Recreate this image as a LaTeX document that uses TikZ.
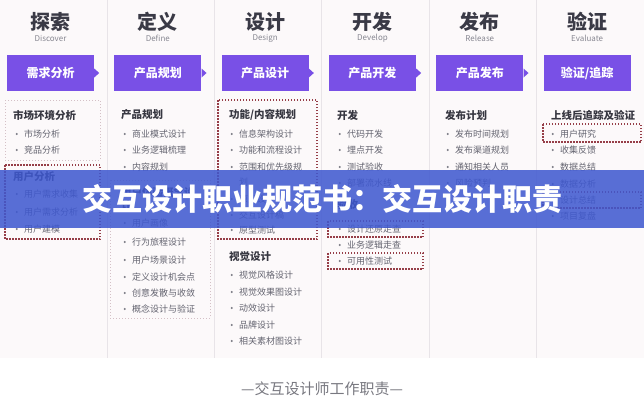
\documentclass[tikz,border=0pt]{standalone}
\usepackage{fontspec}
\setmainfont{Noto Sans CJK SC}
\usepackage{xcolor}
\usepackage{tikz}
\usetikzlibrary{calc}
\definecolor{stagepurple}{RGB}{121,80,230}
\definecolor{titlegray}{RGB}{58,58,70}
\definecolor{subgray}{RGB}{135,135,145}
\definecolor{headgray}{RGB}{55,55,65}
\definecolor{itemgray}{RGB}{100,100,112}
\definecolor{dotgray}{RGB}{120,120,130}
\definecolor{sepgray}{RGB}{232,228,232}
\definecolor{colbg}{RGB}{252,249,250}
\definecolor{lightdot}{RGB}{212,192,198}
\definecolor{reddot}{RGB}{150,62,72}
\definecolor{bannerblue}{RGB}{62,88,208}
\definecolor{footgray}{RGB}{120,120,128}

\begin{document}
\begin{tikzpicture}[x=1pt,y=-1pt,
	title/.style={font=\bfseries\fontsize{20}{22}\selectfont, text=titlegray},
	subtitle/.style={font=\fontsize{8}{9}\selectfont, text=subgray},
	stagebox/.style={fill=stagepurple, minimum width=87pt, minimum height=36pt, text=white, font=\bfseries\fontsize{12}{14}\selectfont},
	sechead/.style={anchor=west, inner sep=0pt, text=headgray, font=\bfseries\fontsize{10.5}{13}\selectfont},
	item/.style={anchor=west, inner sep=0pt, text=itemgray, font=\fontsize{9}{11}\selectfont, label={[dot,xshift=-6pt]left:{}}},
	wrapline/.style={anchor=west, inner sep=0pt, text=itemgray, font=\fontsize{9}{11}\selectfont},
	dot/.style={circle, fill=dotgray, inner sep=0pt, minimum size=2.2pt},
	lightbox/.style={draw=lightdot, line width=1pt, dash pattern=on 1pt off 2pt},
	redbox/.style={draw=reddot, line width=1.5pt, dash pattern=on 1.5pt off 1.5pt}]
			\useasboundingbox (0,0) rectangle (644,400);
			%background
			\fill[white] (0,0) rectangle (644,400);
			\fill[colbg] (0,0) rectangle (644,358);
			\foreach \i in {1,...,5}
				\draw[sepgray, line width=1pt] (\i*107.33,0) -- (\i*107.33,358);

			%stages
			\foreach \i/\zh/\en/\task in {0/探索/Discover/需求分析, 1/定义/Define/产品规划, 2/设计/Design/产品设计, 3/开发/Develop/产品开发, 4/发布/Release/产品发布, 5/验证/Evaluate/{验证/追踪}}{
				\pgfmathsetmacro{\cx}{\i*107.33+50.5}
				\node [title] at (\cx,22) (title\i) {\zh};
				\node [subtitle] at (\cx,38.5) (sub\i) {\en};
				\node [stagebox] at (\cx,73) (stage\i) {\task};
			}
			\foreach \i in {0,...,4}
				\fill[stagepurple] (stage\i.east) ++(0,-4.5) -- ++(5,4.5) -- ++(-5,4.5) -- cycle;

			%discover
			\draw[lightbox] (5,100) rectangle (100,160);
			\node [sechead] at (13,115) (h11) {市场环境分析};
			\node [item] at (24,134) (i11) {市场分析};
			\node [item] at (24,150) (i12) {竞品分析};
			\draw[redbox] (5,165) rectangle (100,239);
			\node [sechead] at (13,177) (h12) {用户分析};
			\node [item] at (24,194) (i13) {用户需求收集};
			\node [item] at (24,212) (i14) {用户需求分析};
			\node [item] at (24,229) (i15) {用户建模};

			%define
			\node [sechead] at (121,115) (h21) {产品规划};
			\node [item] at (132,134) (i21) {商业模式设计};
			\node [item] at (132,150) (i22) {业务逻辑梳理};
			\node [item] at (132,167) (i23) {内容规划};
			\draw[lightbox] (110,180) rectangle (210,318);
			\node [sechead, align=left] at (121,199) (h22) {用户体验概念设\\计};
			\node [item] at (132,223) (i24) {用户画像};
			\node [item] at (132,242) (i25) {行为旅程设计};
			\node [item] at (132,260) (i26) {用户场景设计};
			\node [item] at (132,277) (i27) {定义设计机会点};
			\node [item] at (132,293) (i28) {创意发散与收敛};
			\node [item] at (132,309) (i29) {概念设计与验证};

			%design
			\draw[redbox] (218,100) rectangle (317,239);
			\node [sechead] at (229,115) (h31) {功能/内容规划};
			\node [item] at (239,134) (i31) {信息架构设计};
			\node [item] at (239,150) (i32) {功能和流程设计};
			\node [item] at (239,167) (i33) {范围和优先级规};
			\node [wrapline] at (239,182) (i33b) {划};
			\node [item] at (239,199) (i34) {原型设计};
			\node [item] at (239,215) (i35) {交互设计稿};
			\node [item] at (239,230) (i36) {原型测试};
			\node [sechead] at (229,257) (h32) {视觉设计};
			\node [item] at (239,275) (i37) {视觉风格设计};
			\node [item] at (239,292) (i38) {视觉效果图设计};
			\node [item] at (239,308) (i39) {动效设计};
			\node [item] at (239,325) (i3a) {品牌设计};
			\node [item] at (239,341) (i3b) {相关素材图设计};

			%develop
			\node [sechead] at (337,115) (h41) {开发};
			\node [item] at (347,134) (i41) {代码开发};
			\node [item] at (347,150) (i42) {埋点开发};
			\node [item] at (347,167) (i43) {测试验收};
			\node [item] at (347,183) (i44) {部署流水线};
			\node [sechead] at (337,204) (h42) {验收};
			\draw[redbox] (328,221) rectangle (423,237);
			\node [item] at (347,229) (i45) {设计还原走查};
			\node [item] at (347,245) (i46) {业务逻辑走查};
			\draw[redbox] (328,253) rectangle (423,269);
			\node [item] at (347,261) (i47) {可用性测试};

			%release
			\node [sechead] at (445,115) (h51) {发布计划};
			\node [item] at (455,134) (i51) {发布时间规划};
			\node [item] at (455,150) (i52) {发布渠道规划};
			\node [item] at (455,167) (i53) {通知相关人员};
			\node [item] at (455,183) (i54) {风险预判};

			%evaluate
			\node [sechead] at (551,115) (h61) {上线后追踪及验证};
			\draw[redbox] (543,124) rectangle (641,142);
			\node [item] at (560,134) (i61) {用户研究};
			\node [item] at (560,150) (i62) {收集反馈};
			\node [item] at (560,167) (i63) {数据总结};
			\node [item] at (560,184) (i64) {数据分析};
			\draw[redbox] (543,192) rectangle (641,208);
			\node [item] at (560,200) (i65) {设计总结};
			\node [item] at (560,216) (i66) {项目复盘};

			%banner
			\node [fill=bannerblue, fill opacity=0.86, text opacity=1, minimum width=644pt, minimum height=58pt, text=white, font=\bfseries\fontsize{30}{32}\selectfont] at (322,199) (banner) {交互设计职业规范书：交互设计职责};

			%footer
			\node [text=footgray, font=\fontsize{15}{17}\selectfont] at (322,389) (footer) {—交互设计师工作职责—};
		\end{tikzpicture}
\end{document}
